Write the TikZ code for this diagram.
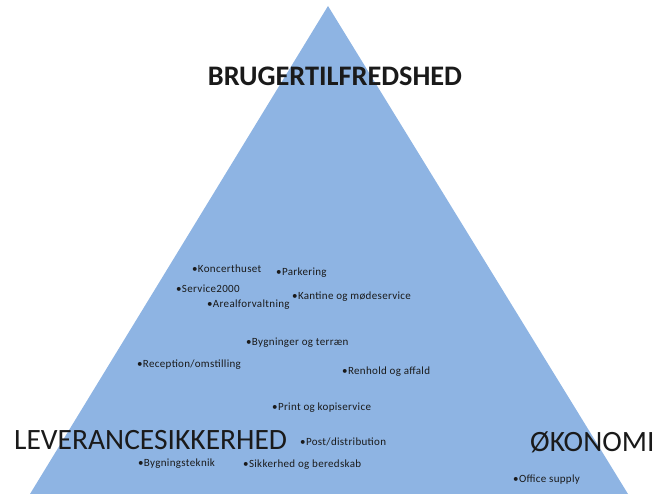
\documentclass[tikz,border=0pt]{standalone}
\usepackage{fontspec}
\setmainfont{Carlito}
\newfontfamily\itemfont[LetterSpace=3]{Carlito}
\definecolor{pyr}{HTML}{8EB4E3}
\definecolor{txt}{HTML}{1A1A1A}
\begin{document}
\begin{tikzpicture}[x=1pt,y=-1pt,
  big/.style={inner sep=0pt,anchor=base west,text depth=0pt,font=\fontsize{29.5}{31}\selectfont,text=txt},
  item/.style={inner sep=0pt,anchor=base west,font=\itemfont\fontsize{11}{12}\selectfont,text=txt}]
\useasboundingbox (0,0) rectangle (656,494);
\fill[pyr] (328,6) -- (628,494) -- (30,494) -- cycle;
\node[big,anchor=base,font=\bfseries\fontsize{28.3}{30}\selectfont] (top) at (335,86) {BRUGERTILFREDSHED};
\node[big] (lev) at (14,449.5) {LEVERANCESIKKERHED};
\node[big] (oko) at (530,451) {ØKONOMI};
\node[item] (a) at (192,273) {•Koncerthuset};
\node[item] (b) at (276,276) {•Parkering};
\node[item] (c) at (176,293) {•Service2000};
\node[item] (d) at (207,308) {•Arealforvaltning};
\node[item] (e) at (292,300) {•Kantine og mødeservice};
\node[item] (f) at (246,345) {•Bygninger og terræn};
\node[item] (g) at (137,367) {•Reception/omstilling};
\node[item] (h) at (342,374) {•Renhold og affald};
\node[item] (i) at (272,410) {•Print og kopiservice};
\node[item] (j) at (300,445) {•Post/distribution};
\node[item] (k) at (138,466.5) {•Bygningsteknik};
\node[item] (l) at (243,467) {•Sikkerhed og beredskab};
\node[item] (m) at (513,482) {•Office supply};
\end{tikzpicture}
\end{document}
